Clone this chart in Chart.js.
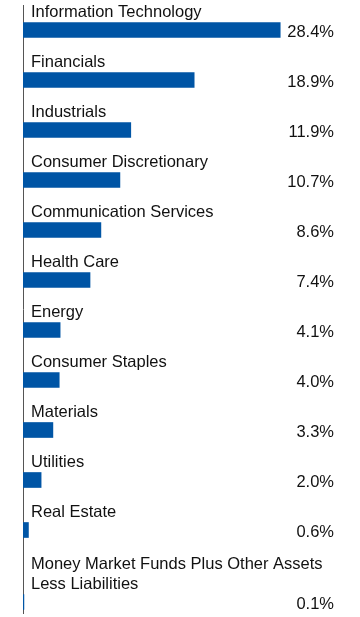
<!DOCTYPE html>
<html>
<head>
<meta charset="utf-8">
<script src="https://cdn.jsdelivr.net/npm/chart.js@4"></script>
<style>
  html, body { margin: 0; padding: 0; background: #fff; }
  #wrap { width: 360px; height: 617px; }
</style>
</head>
<body>
<div id="wrap"><canvas id="sectorChart"></canvas></div>
<script>
const sectors = [
  ["Information Technology"],
  ["Financials"],
  ["Industrials"],
  ["Consumer Discretionary"],
  ["Communication Services"],
  ["Health Care"],
  ["Energy"],
  ["Consumer Staples"],
  ["Materials"],
  ["Utilities"],
  ["Real Estate"],
  ["Money Market Funds Plus Other Assets", "Less Liabilities"],
];
const weights = [28.4, 18.9, 11.9, 10.7, 8.6, 7.4, 4.1, 4.0, 3.3, 2.0, 0.6, 0.1];
const valueLabels = ["28.4%", "18.9%", "11.9%", "10.7%", "8.6%", "7.4%", "4.1%", "4.0%", "3.3%", "2.0%", "0.6%", "0.1%"];

const FONT = '16.5px "Liberation Sans", Arial, sans-serif';

// each row takes one slot, extra label lines push the row down a bit
const rowPos = [];
let acc = 0;
sectors.forEach((lines, i) => {
  if (i > 0) acc += 1;
  acc += (lines.length - 1) * 0.44;
  rowPos.push(acc);
});

const labelsPlugin = {
  id: "rowLabels",
  afterDatasetsDraw(chart) {
    const ctx = chart.ctx;
    const meta = chart.getDatasetMeta(0);
    ctx.save();
    ctx.font = FONT;
    ctx.fillStyle = "#111";
    meta.data.forEach((bar, i) => {
      const lines = sectors[i];
      ctx.textAlign = "left";
      ctx.textBaseline = "alphabetic";
      lines.forEach((line, k) => {
        const y = bar.y - 13 - (lines.length - 1 - k) * 20;
        ctx.fillText(line, 31, y);
      });
      ctx.textAlign = "right";
      ctx.textBaseline = "middle";
      ctx.fillText(valueLabels[i], 334, bar.y + 2);
    });
    ctx.restore();
  },
};

new Chart(document.getElementById("sectorChart"), {
  type: "bar",
  data: {
    datasets: [
      {
        data: weights.map((w, i) => ({ x: w, y: rowPos[i] })),
        backgroundColor: "#0055a5",
        borderWidth: 0,
        barThickness: 15,
      },
    ],
  },
  options: {
    indexAxis: "y",
    responsive: true,
    maintainAspectRatio: false,
    animation: false,
    layout: { padding: { left: 23, right: 20, top: 5, bottom: 4 } },
    plugins: { legend: { display: false }, tooltip: { enabled: false } },
    scales: {
      x: { type: "linear", min: 0, max: 35, display: false },
      y: {
        type: "linear",
        reverse: true,
        offset: false,
        min: -0.5,
        max: 11.66,
        ticks: { display: false },
        grid: { display: false, drawTicks: false },
        border: { display: true, color: "#555", width: 1 },
      },
    },
  },
  plugins: [labelsPlugin],
});
</script>
</body>
</html>
